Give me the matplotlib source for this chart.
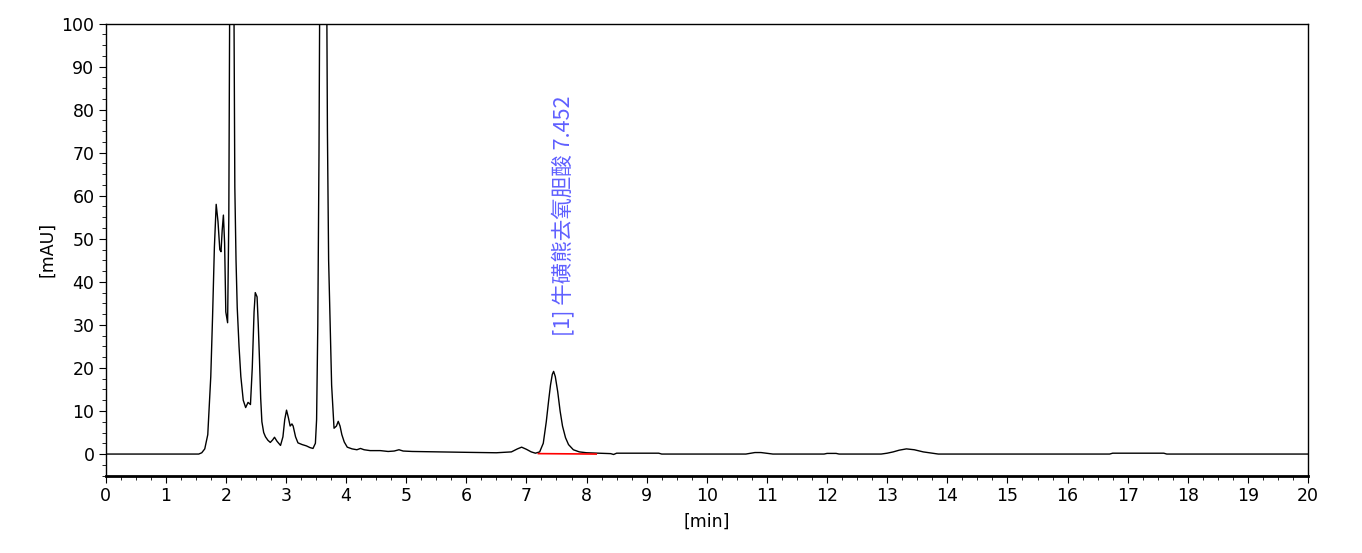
import matplotlib
matplotlib.use('Agg')
import matplotlib.pyplot as plt
from matplotlib.ticker import MultipleLocator

# ===== 데이터: 크로마토그램 (읽어낸 점들) =====
time_min = [0, 1.55, 1.60, 1.65, 1.70, 1.75, 1.78, 1.81, 1.84, 1.87, 1.90, 1.92, 1.94,
            1.96, 1.98, 2.00, 2.03, 2.05, 2.075, 2.10, 2.125, 2.15, 2.17, 2.19, 2.22,
            2.25, 2.29, 2.33, 2.37, 2.41, 2.44, 2.47, 2.49, 2.52, 2.54, 2.56, 2.58,
            2.60, 2.63, 2.66, 2.70, 2.74, 2.78, 2.81, 2.85, 2.91, 2.95, 2.98, 3.01,
            3.04, 3.07, 3.10, 3.12, 3.16, 3.20, 3.27, 3.34, 3.40, 3.45, 3.49, 3.51,
            3.53, 3.55, 3.58, 3.62, 3.66, 3.69, 3.71, 3.73, 3.76, 3.80, 3.84, 3.87,
            3.90, 3.93, 3.97, 4.02, 4.10, 4.18, 4.24, 4.30, 4.40, 4.57, 4.70, 4.80,
            4.88, 4.95, 5.10, 5.50, 6.00, 6.50, 6.75, 6.85, 6.92, 7.00, 7.08, 7.15,
            7.22, 7.28, 7.33, 7.37, 7.40, 7.43, 7.452, 7.48, 7.52, 7.56, 7.60, 7.65,
            7.70, 7.78, 7.88, 8.00, 8.20, 8.40, 8.45, 8.50, 9.20, 9.25, 10.65, 10.80,
            10.90, 11.05, 11.10, 11.95, 12.00, 12.15, 12.20, 12.90, 13.00, 13.10,
            13.20, 13.32, 13.45, 13.60, 13.75, 13.85, 16.70, 16.75, 17.60, 17.65, 20.0]
signal_mau = [0, 0, 0.3, 1.2, 4.5, 18, 32, 48, 58, 54, 47.5, 47, 52,
              55.5, 49, 33, 30.5, 55, 140, 170, 135, 62, 45, 34, 25,
              18, 12.5, 10.8, 12, 11.5, 20, 33, 37.5, 36.5, 30, 22, 13,
              7.5, 5, 4, 3.2, 2.7, 3.3, 3.9, 3, 2, 4, 8, 10.2,
              8.5, 6.5, 7, 6.5, 4, 2.6, 2.2, 1.9, 1.5, 1.3, 2.5, 8,
              30, 70, 160, 260, 160, 75, 45, 33, 16, 6, 6.5, 7.6,
              6.5, 4.5, 2.8, 1.6, 1.2, 1.0, 1.3, 1.0, 0.8, 0.8, 0.6, 0.7,
              1.0, 0.7, 0.6, 0.5, 0.4, 0.3, 0.5, 1.2, 1.6, 1.1, 0.5, 0.2,
              0.5, 2.5, 7.5, 12.5, 16, 18.5, 19.2, 18, 14.5, 10, 6.5, 3.8,
              2.2, 1.0, 0.5, 0.3, 0.2, 0.1, -0.1, 0.2, 0.2, 0.0, 0.0, 0.35,
              0.35, 0.1, 0.0, 0.0, 0.15, 0.15, 0.0, 0.0, 0.2, 0.5,
              0.9, 1.2, 1.0, 0.5, 0.2, 0.0, 0.0, 0.2, 0.2, 0.0, 0.0]

# 적분 베이스라인 (빨간 선)
baseline_t = [7.20, 8.16]
baseline_y = [0.1, 0.0]

peak_label = "[1] 牛磺熊去氧胆酸 7.452"
peak_label_pos = (7.63, 27.5)

plt.rcParams['font.family'] = ['DejaVu Sans']

fig = plt.figure(figsize=(13.62, 5.53), dpi=100)
ax = fig.add_axes([0.0775, 0.140, 0.8829, 0.8175])

ax.plot(time_min, signal_mau, color='black', lw=1.0)
ax.plot(baseline_t, baseline_y, color='red', lw=1.2)

ax.text(peak_label_pos[0], peak_label_pos[1], peak_label, rotation=90,
        ha='center', va='bottom', color='#6060ff', fontsize=15.5,
        family=['Noto Sans CJK SC', 'DejaVu Sans'])

ax.set_xlim(0, 20)
ax.set_ylim(-5, 100)
ax.xaxis.set_major_locator(MultipleLocator(1))
ax.xaxis.set_minor_locator(MultipleLocator(0.25))
ax.yaxis.set_minor_locator(MultipleLocator(2.5))
ax.set_yticks(range(0, 101, 10))
ax.tick_params(which='major', length=5, labelsize=12.5, direction='out', pad=3)
ax.tick_params(which='minor', length=3, direction='out')

for s in ax.spines.values():
    s.set_linewidth(1.0)
ax.spines['bottom'].set_linewidth(2.0)

ax.set_xlabel('[min]', fontsize=12.5, labelpad=6)
ax.set_ylabel('[mAU]', fontsize=12.5, labelpad=4)

fig.savefig('out.png', dpi=100)
